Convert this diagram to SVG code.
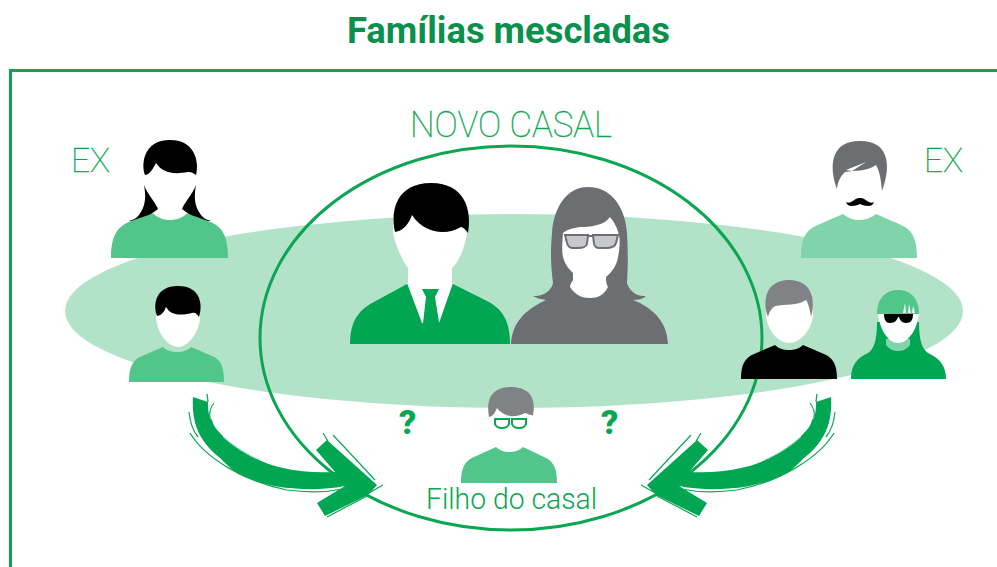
<svg xmlns="http://www.w3.org/2000/svg" width="997" height="567" viewBox="0 0 997 567">
<style>
.title{font-family:"Roboto","Liberation Sans",sans-serif;font-weight:700;font-size:37px;fill:#0b8f4d}
.lab{font-family:"Roboto","Liberation Sans",sans-serif;font-weight:300;fill:#0aa651}
.thin{font-weight:100;stroke:#0aa651;stroke-width:.35}
.q{font-family:"Roboto","Liberation Sans",sans-serif;font-weight:900;font-size:34px;fill:#0aa651}
.lg{fill:#52c68a}.pale{fill:#80d4a9}.dg{fill:#00a651}.k{fill:#000}.gr{fill:#6d6e71}.gm{fill:#808285}.w{fill:#fff}
.sc{fill:none;stroke:#0aa651;stroke-width:1.2}
</style>
<defs>
<g id="arrow">
<path class="dg" d="M193 397L208 402C208 412 209 418 212 420C213 425 216 429 220 433C225 439 231 444 237 448C252 458 268 465 283 468C300 472 318 473 335 472L316 450L327 440L377 485L368 495L325 516L317 503L345 486C325 490 302 490 280 487C264 484 250 480 237 473C230 468 225 463 220 458C212 452 207 446 203 440C195 428 192 415 193 397Z"/>
<path class="sc" d="M190 433C205 458 245 482 287 490C310 493 328 492 343 489"/>
<path class="sc" d="M189 412C190 422 193 431 198 437"/>
<path class="sc" d="M214 403C210 408 209 413 210 418"/>
<path class="sc" d="M207 394L208 402"/>
<path class="sc" d="M333 435L375 480"/>
<path class="sc" d="M323 433L328 441"/>
<path class="sc" d="M327 517L367 496"/>
<path class="sc" d="M367 494L383 485"/>
<path d="M223 437C235 447 248 455 260 460" fill="none" stroke="#8fd8b2" stroke-width=".8"/>
</g>
</defs>
<text class="title" x="347" y="43" textLength="323" lengthAdjust="spacingAndGlyphs">Famílias mescladas</text>
<path d="M10.500 567V70.500H997" fill="none" stroke="#0aa651" stroke-width="3"/>
<ellipse cx="514" cy="311" rx="449" ry="97" fill="#b2e3c9"/>
<g id="connectors">
<ellipse cx="511" cy="338" rx="251" ry="192" fill="none" stroke="#0aa651" stroke-width="3"/>
<use href="#arrow"/>
<use href="#arrow" transform="translate(1024 0) scale(-1 1)"/>
</g>
<text class="lab thin" x="410" y="137" font-size="36" textLength="202" lengthAdjust="spacingAndGlyphs">NOVO CASAL</text>
<text class="lab thin" x="71" y="172" font-size="33" textLength="39" lengthAdjust="spacingAndGlyphs">EX</text>
<text class="lab thin" x="924" y="172" font-size="33" textLength="39" lengthAdjust="spacingAndGlyphs">EX</text>
<g id="ex-woman">
<path class="k" d="M144 185C146 196 146 206 139 215C136 219 132 220 129 221C137 222 147 218 158 209C156 203 148 195 144 185Z"/>
<path class="k" d="M196 185C194 196 194 206 201 215C204 219 208 220 211 221C203 222 193 218 182 209C184 203 192 195 196 185Z"/>
<path class="k" d="M145 175C141 165 143 140 170 140C197 140 199 165 196 175C193 173 192 172 188 172C172 175 162 172 156 163C153 168 151 174 145 175Z"/>
<path class="lg" d="M111 258C111 235 118 226 131 221L153 213.500C158 218 164 220 170 220C176 220 182 218 187 213.500L208 221C222 226 228 235 228 258Z"/>
</g>
<g id="ex-son">
<path class="w" d="M156 317C156 330 167 347 178 347C189 347 200 330 200 317L200 300H156Z"/>
<path class="k" d="M157 316C153 305 155 286 178 286C201 286 203 305 199 317C197 314 195 312 192 313C178 316 171 315 166 307C164 312 162 315 157 316Z"/>
<path class="lg" d="M129 382C129 366 133 360 142 356L163 347C167 351 172 352 177 352C182 352 187 351 191 347L212 356C221 360 224 366 224 382Z"/>
</g>
<g id="new-man">
<path class="w" d="M393 232C395 245 403 262 408 268V285H452V268C459 262 466 245 467 232V215H393Z"/>
<path class="k" d="M395 232C390 210 397 183 431 183C465 183 472 210 468 233C465 229 463 227 461 227C448 235 425 235 412 215C409 224 403 231 395 232Z"/>
<path class="dg" d="M350 344C350 322 358 311 372 303L407 284H453L489 302C503 310 510 322 510 344Z"/>
<path class="w" d="M407 283L422 323H439L453 283Z"/>
<path class="dg" d="M422 289L439 289L435 297L439 322V330H423V323L426 297Z"/>
</g>
<g id="new-woman">
<path class="gr" d="M511 344C512 325 522 313 540 303L546 300C540 299 536 298 533 296C543 297 552 290 553 283C550 260 551 245 552 233C554 205 568 187 588 187C610 187 625 205 627 233C628 250 628 265 627 283C629 290 636 297 646 296C643 299 638 300 633 300L640 303C658 313 667 325 668 344Z"/>
<path class="w" d="M563 233C562 245 562 252 563 257C565 265 570 270 573 273V280C571 283 570 285 570 287C575 295 582 298 590 298C598 298 604 295 608 287C606 284 606 280 606 277C612 272 617 265 618 257C620 248 620 240 619 235C617 227 614 222 610 217C606 222 602 224 597 225C590 227 585 227 580 227C573 228 566 230 563 233Z"/>
<g fill="#c8c9cb" stroke="#6d6e71" stroke-width="2">
<path d="M565 235H588L587 244C586 247 584 248 578 248H572C569 248 568 246 567 243Z"/>
<path d="M593 235H618L616 243C615 247 612 248 606 248H599C596 248 595 247 594 244Z"/>
<path d="M588 236H593" fill="none"/>
</g>
</g>
<g id="ex-man">
<path class="gr" d="M837 189C830 170 828 141 860 141C892 141 890 170 882 191C881 180 880 172 876 165C866 172 855 170 845 172C841 176 838 180 837 189Z"/>
<path class="w" d="M846 170L866 162L852 171Z"/>
<path class="k" d="M846 202C851 205 855 197 860 198C865 197 869 205 874 202C872 208 865 206 860 204C855 206 848 208 846 202Z"/>
<path class="pale" d="M801 258C801 236 807 229 820 224L843 214C848 218 853 220 859 220C865 220 871 218 876 214L899 224C911 229 917 236 917 258Z"/>
</g>
<g id="ex-son-right">
<path class="w" d="M766 315C767 330 778 343 789 343C800 343 812 330 813 315L812 298H767Z"/>
<path class="gm" d="M768 317C762 300 766 280 789 280C812 280 816 300 811 317C810 309 808 303 806 300C797 306 785 304 775 306C771 309 769 312 768 317Z"/>
<path class="k" d="M741 379C741 364 745 358 754 354L775 345C779 349 784 350 789 350C794 350 799 349 803 345L824 354C833 358 837 364 837 379Z"/>
</g>
<g id="ex-daughter">
<path class="dg" d="M851 379C851 365 857 358 868 353C874 349 877 340 877 322H919C919 340 922 349 928 353C939 358 946 365 946 379Z"/>
<path d="M886 339H910V345C906 350 902 351 898 351C894 351 890 350 886 345Z" fill="#80d4a9"/>
<path class="w" d="M878 314C880 330 888 343 898 343C908 343 917 330 919 314Z"/>
<path class="k" d="M884 314H913C913 320 911 323 906 323C902 323 900 320 899 317H898C897 320 895 323 890 323C886 323 884 320 884 314Z"/>
<path class="lg" d="M877 314C877 300 884 290 898 290C912 290 919 300 919 314Z"/>
<path class="w" d="M903 313L905 303L906 313ZM908 313L909 304L911 313ZM912 313L913 306L915 313Z"/>
</g>
<g id="child">
<path class="w" d="M493 417C495 432 503 444 511 444C519 444 527 432 529 417Z"/>
<path class="gm" d="M489 417C486 400 491 387 511 387C531 387 536 400 533 415C530 416 526 413 525 413C513 419 503 416 497 408C495 412 494 416 489 417Z"/>
<g fill="#fff" stroke="#0aa651" stroke-width="2">
<path d="M495 419H509V424C508 427 505 428 502 428C498 428 496 427 495 424Z"/>
<path d="M512 419H526V424C525 427 522 428 519 428C515 428 513 427 512 424Z"/>
</g>
<path class="lg" d="M461 483C461 467 465 461 474 457L496 447C500 451 505 452 509 452C514 452 519 451 523 447L544 457C553 461 557 467 557 483Z"/>
</g>
<text class="q" x="399" y="434">?</text>
<text class="q" x="601" y="434">?</text>
<text class="lab" x="426" y="509" font-size="30" textLength="171" lengthAdjust="spacingAndGlyphs">Filho do casal</text>
</svg>
